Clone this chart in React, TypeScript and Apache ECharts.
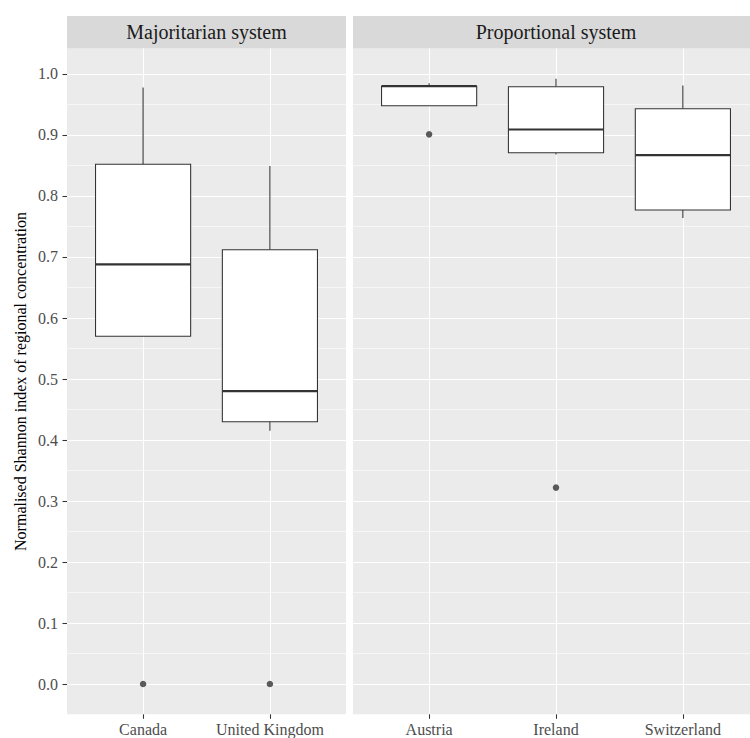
import React, { useEffect, useRef } from "react";
import * as echarts from "echarts";

// Countries shown in each facet
const majoritarianCountries = ["Canada", "United Kingdom"];
const proportionalCountries = ["Austria", "Ireland", "Switzerland"];

// Box statistics: [lower whisker, Q1, median, Q3, upper whisker]
const majoritarianBoxes = [
  [0.57, 0.57, 0.688, 0.852, 0.978],
  [0.415, 0.43, 0.48, 0.712, 0.849],
];
const proportionalBoxes = [
  [0.948, 0.948, 0.98, 0.98, 0.985],
  [0.868, 0.871, 0.909, 0.979, 0.992],
  [0.764, 0.777, 0.867, 0.943, 0.981],
];

// Outlying observations: [country position (1-based), value]
const majoritarianOutliers = [
  [1, 0.0],
  [2, 0.0],
];
const proportionalOutliers = [
  [1, 0.901],
  [2, 0.322],
];

// Y scale
const yMin = -0.0496;
const yMax = 1.0416;
const yMajorTicks = [0, 0.1, 0.2, 0.3, 0.4, 0.5, 0.6, 0.7, 0.8, 0.9, 1.0];
const yTickLabels = ["0.0", "0.1", "0.2", "0.3", "0.4", "0.5", "0.6", "0.7", "0.8", "0.9", "1.0"];
const yMinorTicks = [0.05, 0.15, 0.25, 0.35, 0.45, 0.55, 0.65, 0.75, 0.85, 0.95];

const facetTitles = ["Majoritarian system", "Proportional system"];
const yTitle = "Normalised Shannon index of regional concentration";

const FONT = "Liberation Serif";
const INK = "#333333";

const renderBox = (_params: any, api: any) => {
  const x = api.value(0);
  const lo = api.coord([x, api.value(1)]);
  const q1 = api.coord([x, api.value(2)]);
  const med = api.coord([x, api.value(3)]);
  const q3 = api.coord([x, api.value(4)]);
  const hi = api.coord([x, api.value(5)]);
  const half = api.size([0.75, 0])[0] / 2;
  const thin = { stroke: INK, lineWidth: 1.07, fill: null };
  return {
    type: "group",
    children: [
      { type: "line", shape: { x1: hi[0], y1: hi[1], x2: q3[0], y2: q3[1] }, style: thin },
      { type: "line", shape: { x1: q1[0], y1: q1[1], x2: lo[0], y2: lo[1] }, style: thin },
      {
        type: "rect",
        shape: { x: q3[0] - half, y: q3[1], width: half * 2, height: q1[1] - q3[1] },
        style: { fill: "#FFFFFF", stroke: INK, lineWidth: 1.07 },
      },
      {
        type: "line",
        shape: { x1: med[0] - half, y1: med[1], x2: med[0] + half, y2: med[1] },
        style: { stroke: INK, lineWidth: 2.2 },
      },
    ],
  };
};

const xAxisFor = (gridIndex: number, names: string[]) => {
  const positions = names.map((_, i) => i + 1);
  return {
    type: "value",
    gridIndex,
    position: "bottom",
    min: 0.4,
    max: names.length + 0.6,
    axisLine: { show: false, onZero: false },
    axisTick: { show: true, length: 4.5, customValues: positions, lineStyle: { color: INK, width: 1.07 } },
    axisLabel: {
      customValues: positions,
      formatter: (v: number) => names[Math.round(v) - 1] ?? "",
      color: "#4D4D4D",
      fontFamily: FONT,
      fontSize: 16,
      margin: 7,
    },
    splitLine: { show: true, lineStyle: { color: "#FFFFFF", width: 1.07 } },
  };
};

const yAxisFor = (gridIndex: number, showLabels: boolean) => [
  {
    type: "value",
    gridIndex,
    position: "left",
    min: yMin,
    max: yMax,
    axisLine: { show: false, onZero: false },
    axisTick: {
      show: showLabels,
      length: 4.5,
      customValues: yMajorTicks,
      lineStyle: { color: INK, width: 1.07 },
    },
    axisLabel: {
      show: showLabels,
      customValues: yMajorTicks,
      formatter: (v: number) => {
        const i = yMajorTicks.findIndex((t) => Math.abs(t - v) < 1e-6);
        return i >= 0 ? yTickLabels[i] : "";
      },
      color: "#4D4D4D",
      fontFamily: FONT,
      fontSize: 16,
      margin: 9,
    },
    splitLine: { show: true, lineStyle: { color: "#FFFFFF", width: 1.07 } },
  },
  {
    type: "value",
    gridIndex,
    position: "right",
    min: yMin,
    max: yMax,
    axisLine: { show: false, onZero: false },
    axisTick: { show: false, customValues: yMinorTicks },
    axisLabel: { show: false, customValues: yMinorTicks },
    splitLine: { show: true, lineStyle: { color: "#FFFFFF", width: 0.55 } },
  },
];

export default function App() {
  const ref = useRef<HTMLDivElement>(null);

  useEffect(() => {
    if (!ref.current) return;
    const chart = echarts.init(ref.current, null, { renderer: "svg" });

    const panelTop = 48.6;
    const panelBottom = 23.7;
    const panels = [
      { left: 67, width: 279 },
      { left: 353, width: 406 },
    ];

    chart.setOption({
      animation: false,
      backgroundColor: "#FFFFFF",
      textStyle: { fontFamily: FONT },
      grid: panels.map((p) => ({
        left: p.left,
        width: p.width,
        top: panelTop,
        bottom: panelBottom,
        show: true,
        backgroundColor: "#EBEBEB",
        borderWidth: 0,
      })),
      xAxis: [xAxisFor(0, majoritarianCountries), xAxisFor(1, proportionalCountries)],
      yAxis: [...yAxisFor(0, true), ...yAxisFor(1, false)],
      series: [
        {
          type: "custom",
          xAxisIndex: 0,
          yAxisIndex: 0,
          renderItem: renderBox,
          encode: { x: 0, y: [1, 2, 3, 4, 5] },
          data: majoritarianBoxes.map((b, i) => [i + 1, ...b]),
          z: 3,
        },
        {
          type: "custom",
          xAxisIndex: 1,
          yAxisIndex: 2,
          renderItem: renderBox,
          encode: { x: 0, y: [1, 2, 3, 4, 5] },
          data: proportionalBoxes.map((b, i) => [i + 1, ...b]),
          z: 3,
        },
        {
          type: "scatter",
          xAxisIndex: 0,
          yAxisIndex: 0,
          symbol: "circle",
          symbolSize: 6.5,
          itemStyle: { color: INK },
          data: majoritarianOutliers,
          z: 4,
        },
        {
          type: "scatter",
          xAxisIndex: 1,
          yAxisIndex: 2,
          symbol: "circle",
          symbolSize: 6.5,
          itemStyle: { color: INK },
          data: proportionalOutliers,
          z: 4,
        },
      ],
      graphic: [
        ...panels.map((p, i) => ({
          type: "group",
          z: 100,
          children: [
            {
              type: "rect",
              shape: { x: p.left, y: 16, width: p.width, height: panelTop - 16 },
              style: { fill: "#D9D9D9" },
            },
            {
              type: "text",
              x: p.left + p.width / 2,
              y: (16 + panelTop) / 2,
              style: {
                text: facetTitles[i],
                fill: "#1A1A1A",
                font: `20px ${FONT}`,
                textAlign: "center",
                textVerticalAlign: "middle",
              },
            },
          ],
        })),
        {
          type: "text",
          z: 100,
          x: 20,
          y: (panelTop + 738 - panelBottom) / 2,
          rotation: Math.PI / 2,
          style: {
            text: yTitle,
            fill: "#000000",
            font: `16px ${FONT}`,
            textAlign: "center",
            textVerticalAlign: "middle",
          },
        },
      ],
    });

    return () => chart.dispose();
  }, []);

  return (
    <div style={{ position: "absolute", left: 0, top: 0, width: 750, height: 738, overflow: "hidden", background: "#FFFFFF" }}>
      <div ref={ref} style={{ width: 760, height: 738 }} />
    </div>
  );
}
